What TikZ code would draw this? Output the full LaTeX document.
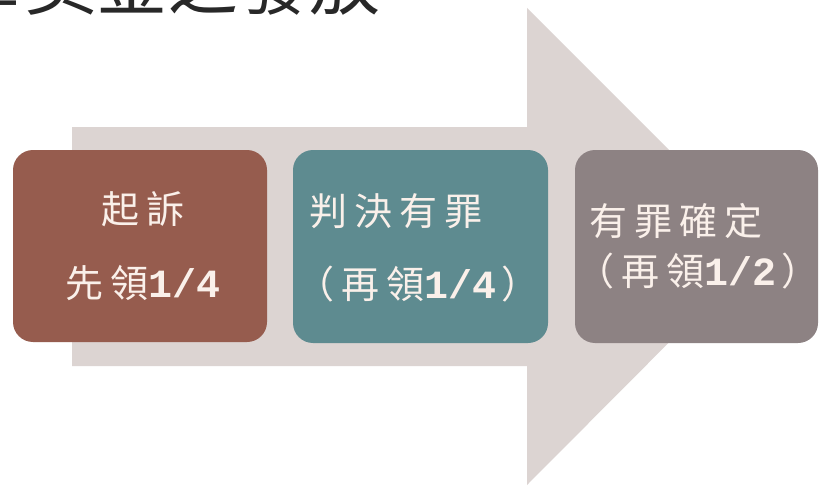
\documentclass[tikz,border=0pt]{standalone}
\usepackage{fontspec}
\newfontfamily\cjktitle{Noto Sans CJK TC}
\newfontfamily\cjkls[LetterSpace=19]{Noto Sans CJK TC}
\newfontfamily\latplain{Liberation Mono Bold}
\definecolor{arrowc}{RGB}{220,212,210}
\definecolor{cone}{RGB}{150,92,78}
\definecolor{ctwo}{RGB}{94,139,144}
\definecolor{cthree}{RGB}{141,130,131}
\definecolor{txtc}{RGB}{250,240,234}
\definecolor{titlec}{RGB}{40,40,40}
\newcommand{\digs}[1]{{\latplain\fontsize{40}{46}\selectfont #1}\hspace{5pt}}
\begin{document}
\begin{tikzpicture}[x=1pt,y=-1pt,
  stagebox/.style={rounded corners=20pt, inner sep=0pt, draw=none},
  lbl/.style={text=txtc, font=\cjkls\fontsize{38}{46}\selectfont, inner sep=0pt}]
\useasboundingbox (0,0) rectangle (820,487);
\clip (0,0) rectangle (820,487);
\fill[white] (0,0) rectangle (820,487);
% title, mostly cut off at the top
\node[anchor=base west, inner sep=0pt, text=titlec,
      font=\cjktitle\fontsize{71}{80}\selectfont] (title) at (-117,10) {檢舉獎金之發放};
% big arrow
\fill[arrowc] (72,127) -- (527,127) -- (527,8) -- (765,246) -- (527,485)
  -- (527,366) -- (72,366) -- cycle;
% boxes
\node[stagebox, fill=cone, minimum width=254pt, minimum height=192pt] (b1) at (140,246) {};
\node[stagebox, fill=ctwo, minimum width=255pt, minimum height=193pt] (b2) at (420.5,246.5) {};
\node[stagebox, fill=cthree, minimum width=243pt, minimum height=193pt] (b3) at (696.5,246.5) {};
% labels
\node[lbl] (b1a) at (143,209) {起訴};
\node[lbl] (b1b) at (143,283) {先領\digs{1/4}};
\node[lbl, anchor=west] (b2a) at (309,211) {判決有罪};
\node[lbl, anchor=west] (b2b) at (296,284) {（再領\digs{1/4}）};
\node[lbl, anchor=west] (b3a) at (589,221) {有罪確定};
\node[lbl, anchor=west] (b3b) at (576,271) {（再領\digs{1/2}）};
\end{tikzpicture}
\end{document}
